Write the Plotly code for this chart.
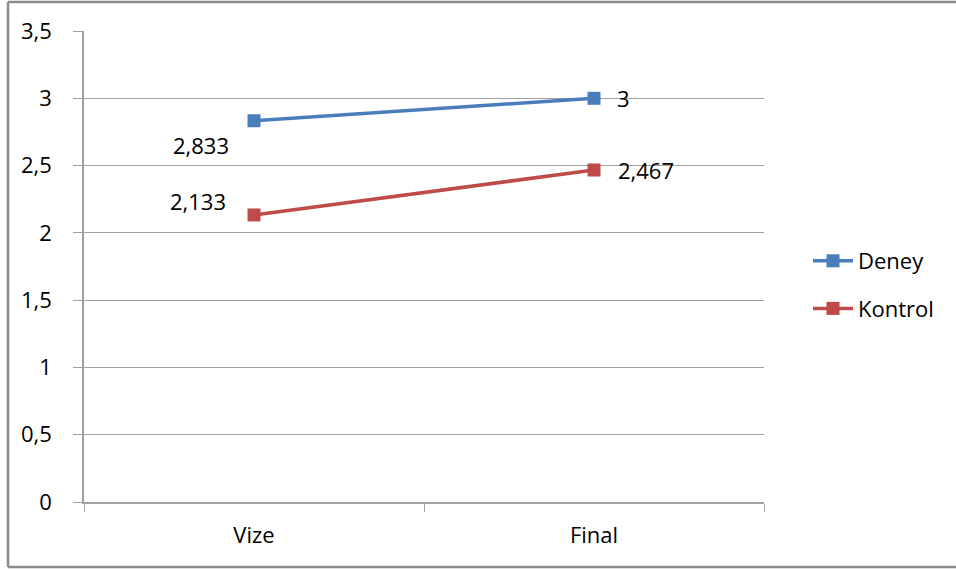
import plotly.graph_objects as go

categories = ["Vize", "Final"]
deney = [2.833, 3.0]
kontrol = [2.133, 2.467]
deney_labels = ["2,833", "3"]
kontrol_labels = ["2,133", "2,467"]
y_ticks = [0, 0.5, 1, 1.5, 2, 2.5, 3, 3.5]

BLUE = "#4A7EBB"
RED = "#BE4B48"
GRID = "#A0A0A0"
FONT = "Open Sans"
FS = 22

W, H = 956, 569
L, R, T, B = 84, 764, 31, 502

fig = go.Figure()
fig.add_trace(go.Scatter(
    x=categories, y=deney, name="Deney", mode="lines+markers",
    line=dict(color=BLUE, width=3.5),
    marker=dict(symbol="square", size=13, color=BLUE),
    legendgroup="a",
))
fig.add_trace(go.Scatter(
    x=categories, y=kontrol, name="Kontrol", mode="lines+markers",
    line=dict(color=RED, width=3.5),
    marker=dict(symbol="square", size=13, color=RED),
    legendgroup="b",
))

# data labels
label_specs = [
    (categories[0], deney[0], deney_labels[0], -53, -24),
    (categories[1], deney[1], deney_labels[1], 29, 0),
    (categories[0], kontrol[0], kontrol_labels[0], -56, 14),
    (categories[1], kontrol[1], kontrol_labels[1], 52, 0),
]
for x, y, t, dx, dy in label_specs:
    fig.add_annotation(x=x, y=y, text=t, showarrow=False, xshift=dx, yshift=dy,
                       font=dict(family=FONT, size=FS, color="#000000"))

# chart-area border (left, top, bottom; right edge lies outside the picture)
pw, ph = R - L, B - T
bx0, bx1 = (8 - L) / pw, (W + 20 - L) / pw
by0, by1 = (B - 567) / ph, (B - 2) / ph
border = dict(color="#8C8C8C", width=2.5)
for x0, y0, x1, y1 in [(bx0, by0, bx0, by1), (bx0, by1, bx1, by1), (bx0, by0, bx1, by0)]:
    fig.add_shape(type="line", xref="paper", yref="paper",
                  x0=x0, y0=y0, x1=x1, y1=y1, line=border, layer="below")

fig.update_layout(
    width=W, height=H,
    margin=dict(l=L, r=W - R, t=T, b=H - B, pad=0),
    paper_bgcolor="white", plot_bgcolor="white",
    separators=", ",
    font=dict(family=FONT, size=FS, color="#000000"),
    showlegend=True,
    legend=dict(x=(808 - L) / pw, y=(B - 285) / ph, xanchor="left", yanchor="middle",
                font=dict(family=FONT, size=FS), tracegroupgap=16, itemwidth=40,
                bgcolor="rgba(0,0,0,0)"),
    xaxis=dict(
        type="category", range=[-0.5, 1.5], tickson="boundaries",
        ticks="outside", ticklen=8, tickcolor=GRID, tickwidth=1.2,
        showline=True, linecolor=GRID, linewidth=1.5,
        showgrid=False, zeroline=False, ticklabelstandoff=13,
    ),
    yaxis=dict(
        range=[0, 3.5], tickvals=y_ticks,
        ticks="outside", ticklen=9, tickcolor=GRID, tickwidth=1.2,
        showline=True, linecolor=GRID, linewidth=1.5,
        showgrid=True, gridcolor=GRID, gridwidth=1.2, zeroline=False,
        ticklabelstandoff=17,
    ),
)

fig.write_html("out.html", config={"displayModeBar": False},
               post_script="document.body.style.margin='0';document.body.style.overflow='hidden';")
